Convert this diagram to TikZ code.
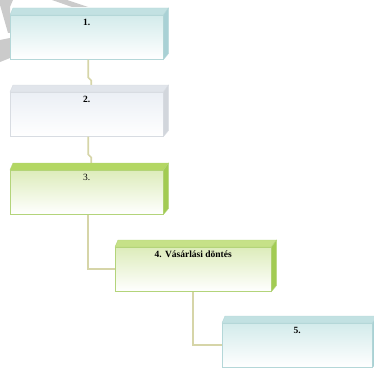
\documentclass[tikz,border=0pt]{standalone}
\usepackage{fontspec}
\setmainfont{Liberation Serif}
\usetikzlibrary{calc}

\definecolor{tealtop}{HTML}{C2E1E2}
\definecolor{tealside}{HTML}{A9D1D5}
\definecolor{tealfront}{HTML}{D3EBEB}
\definecolor{tealline}{HTML}{B4D7D8}
\definecolor{greytop}{HTML}{E1E5EB}
\definecolor{greyside}{HTML}{D2D6DC}
\definecolor{greyfront}{HTML}{EBEFF5}
\definecolor{greyline}{HTML}{D8DCE2}
\definecolor{greentop}{HTML}{B3D763}
\definecolor{greenside}{HTML}{A2CB52}
\definecolor{greenfront}{HTML}{DDECBB}
\definecolor{greenline}{HTML}{B3D47A}
\definecolor{lgreentop}{HTML}{C6E188}
\definecolor{khaki}{HTML}{D6D5A8}
\definecolor{wmgrey}{HTML}{CBCBCB}

\begin{document}
\begin{tikzpicture}[
  x=1pt,y=-1pt,
  stage/.style={draw,line width=0.5pt,anchor=north west,minimum width=153pt,
    inner xsep=0pt,inner ysep=3pt,text height=7pt,text depth=31pt,
    font=\fontsize{9.5}{11}\selectfont\bfseries,bottom color=white},
  tealstage/.style={stage,tealline,top color=tealfront,text=black},
  greystage/.style={stage,greyline,top color=greyfront,text=black},
  greenstage/.style={stage,greenline,top color=greenfront,text=black},
  link/.style={line width=1.7pt,khaki},
  wmark/.style={fill=wmgrey}
]
  \clip (0,0) rectangle (374,369);

  % Faded watermark bands behind the boxes.
  \fill[wmark] (0,0) -- (13,0) -- (10,7) -- (10,33) -- (8,33) -- (0,5) -- cycle;
  \fill[wmark] (0,40) -- (10,38) -- (10,58) -- (0,62) -- cycle;
  \fill[wmark] (52,0) -- (67,0) -- (88,7) -- (72,7) -- cycle;

  % Stages, front faces.
  \node[tealstage] (s1) at (10,15) {1.};
  \node[greystage] (s2) at (10,92) {2.};
  \node[greenstage,font=\fontsize{9.5}{11}\selectfont] (s3) at (10,170) {3.};
  \node[greenstage,minimum width=156pt] (s4) at (115,247) {4. Vásárlási döntés};
  \node[tealstage,minimum width=150pt] (s5) at (222,323) {5.};

  % Connectors between the stages.
  \draw[link] ([xshift=1.5pt]s1.south) -- ++(0,18) -- ++(3,3)
    -- ([xshift=4.5pt,yshift=6.5pt]s2.north);
  \draw[link] ([xshift=1.5pt]s2.south) -- ++(0,18) -- ++(3,3)
    -- ([xshift=4.5pt,yshift=6.5pt]s3.north);
  \draw[link] ([xshift=1.5pt]s3.south) |- (s4.west);
  \draw[link] (s4.south) |- (s5.west);

  % Top and side faces give the boxes depth.
  \foreach \n/\tc/\sc/\lc in {s1/tealtop/tealside/tealline,
      s2/greytop/greyside/greyline, s3/greentop/greenside/greenline,
      s4/lgreentop/greenside/greenline, s5/tealtop/tealside/tealline} {
    \filldraw[fill=\tc,draw=\lc,line width=0.4pt]
      (\n.north west) -- ++(3,-7) -- ($(\n.north east)+(5,-7)$)
      -- (\n.north east) -- cycle;
    \filldraw[fill=\sc,draw=\lc,line width=0.4pt]
      (\n.north east) -- ($(\n.north east)+(5,-7)$)
      -- ($(\n.south east)+(5,-6)$) -- (\n.south east) -- cycle;
  }
\end{tikzpicture}
\end{document}
